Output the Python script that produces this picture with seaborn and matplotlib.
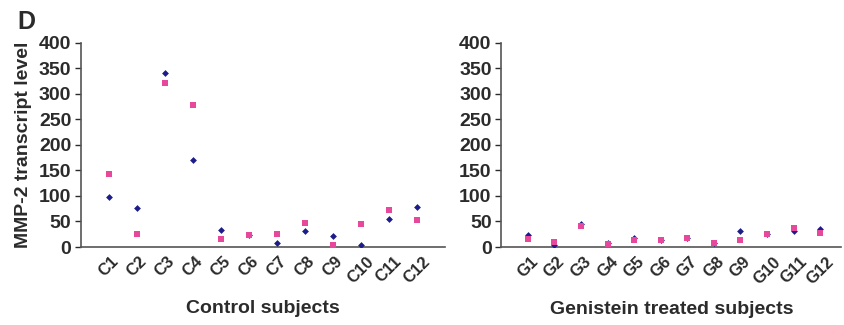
import matplotlib
matplotlib.use("Agg")
import matplotlib.pyplot as plt
import seaborn as sns
import pandas as pd

# values (MMP-2 transcript level)
control_labels = ["C1", "C2", "C3", "C4", "C5", "C6", "C7", "C8", "C9", "C10", "C11", "C12"]
control_blue = [98, 77, 341, 170, 33, 23, 8, 31, 22, 4, 54, 79]
control_pink = [143, 25, 322, 278, 16, 23, 26, 47, 3, 45, 72, 52]

genistein_labels = ["G1", "G2", "G3", "G4", "G5", "G6", "G7", "G8", "G9", "G10", "G11", "G12"]
genistein_blue = [23, 3, 45, 8, 17, 14, 18, 7, 32, 25, 31, 36]
genistein_pink = [16, 9, 41, 5, 13, 14, 18, 7, 14, 25, 37, 28]

yticks = [0, 50, 100, 150, 200, 250, 300, 350, 400]

sns.set_style("white")
plt.rcParams["font.family"] = ["Liberation Sans", "DejaVu Sans"]
plt.rcParams["font.weight"] = "bold"

txt = "#2b2b2b"
palette = {"blue": "#1c1c8a", "pink": "#e8489b"}
markers = {"blue": "D", "pink": "s"}


def make_df(labels, blue, pink):
    df_b = pd.DataFrame({"subject": labels, "level": blue, "series": "blue"})
    df_p = pd.DataFrame({"subject": labels, "level": pink, "series": "pink"})
    return pd.concat([df_b, df_p], ignore_index=True)


fig = plt.figure(figsize=(8.44, 3.25), dpi=100)
ax1 = fig.add_axes([0.096, 0.24, 0.431, 0.628])
ax2 = fig.add_axes([0.594, 0.24, 0.403, 0.628])

panels = [
    (ax1, make_df(control_labels, control_blue, control_pink), control_labels,
     "Control subjects", 12.0),
    (ax2, make_df(genistein_labels, genistein_blue, genistein_pink), genistein_labels,
     "Genistein treated subjects", 11.8),
]

for ax, df, labels, xlabel, xmax in panels:
    for s, sz in [("blue", 12), ("pink", 22)]:
        sns.scatterplot(data=df[df["series"] == s], x="subject", y="level",
                        color=palette[s], marker=markers[s], s=sz,
                        linewidth=0, ax=ax, legend=False, zorder=3)
    ax.set_xlim(-1, xmax)
    ax.set_ylim(0, 400)
    ax.set_yticks(yticks)
    ax.set_xticks(range(len(labels)))
    ax.set_xticklabels(labels, rotation=45, fontsize=12, color=txt)
    ax.tick_params(axis="y", labelsize=14, colors=txt, length=4, width=1,
                   direction="out", left=True, pad=3)
    ax.tick_params(axis="x", length=0, pad=5)
    for side in ["top", "right"]:
        ax.spines[side].set_visible(False)
    for side in ["left", "bottom"]:
        ax.spines[side].set_color("#555555")
        ax.spines[side].set_linewidth(1.2)
    ax.set_xlabel(xlabel, fontsize=14, fontweight="bold", color=txt, labelpad=10)
    ax.set_ylabel("")

ax1.set_ylabel("MMP-2 transcript level", fontsize=14, fontweight="bold",
               color=txt, labelpad=5)
fig.text(0.02, 0.97, "D", fontsize=18, fontweight="bold", color=txt,
         ha="left", va="top")

fig.savefig("out.png", dpi=100)
